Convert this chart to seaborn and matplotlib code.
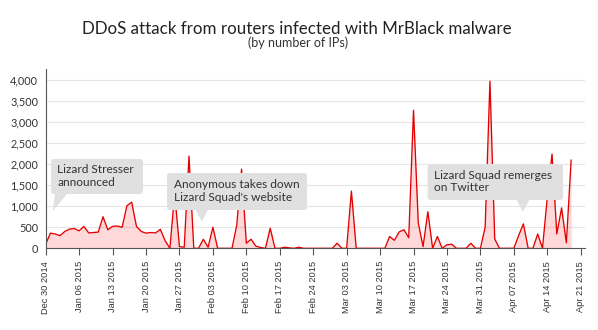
import numpy as np
import pandas as pd
import matplotlib
matplotlib.use("Agg")
import matplotlib.pyplot as plt
import matplotlib.dates as mdates
from matplotlib.patches import FancyBboxPatch, Polygon
from matplotlib.transforms import IdentityTransform
from matplotlib.ticker import FuncFormatter
import seaborn as sns

# ---------------- data ----------------
start_date = "2014-12-30"
ips = [100, 360, 340, 300, 400, 455, 470, 415, 520, 365,
       375, 385, 750, 440, 520, 530, 500, 1010, 1095, 520,
       400, 360, 375, 365, 450, 180, 0, 1300, 40, 25,
       2190, 0, 0, 215, 25, 500, 0, 0, 0, 0,
       550, 1880, 120, 215, 50, 20, 0, 476, 0, 0,
       25, 10, 0, 25, 0, 0, 0, 0, 0, 0,
       0, 120, 0, 0, 1360, 0, 0, 0, 0, 0,
       0, 0, 280, 190, 390, 440, 250, 3280, 600, 40,
       870, 0, 280, 0, 85, 95, 0, 0, 0, 120,
       0, 0, 500, 3970, 220, 0, 0, 0, 0, 300,
       580, 0, 0, 340, 0, 1200, 2240, 340, 960, 130,
       2100]
tick_start = "2014-12-30"
tick_end = "2015-04-21"
y_ticks = [0, 500, 1000, 1500, 2000, 2500, 3000, 3500, 4000]
title = "DDoS attack from routers infected with MrBlack malware"
subtitle = "(by number of IPs)"
notes = ["Lizard Stresser\nannounced",
         "Anonymous takes down\nLizard Squad's website",
         "Lizard Squad remerges\non Twitter"]

dates = pd.date_range(start_date, periods=len(ips), freq="D")
tick_dates = pd.date_range(tick_start, tick_end, freq="7D")
df = pd.DataFrame({"date": dates, "ips": ips})

# ---------------- style ----------------
sns.set_theme(style="white")
plt.rcParams["font.family"] = ["Lato", "DejaVu Sans"]

W, H = 598, 330
fig = plt.figure(figsize=(W / 100, H / 100), dpi=100)
fig.patch.set_facecolor("white")

x0, x1, ybot, ytop = 45.7, 585.0, 248.3, 69.0
ax = fig.add_axes([x0 / W, 1 - ybot / H, (x1 - x0) / W, (ybot - ytop) / H])

sns.lineplot(data=df, x="date", y="ips", ax=ax, color="#e30000", linewidth=0.95)
ax.fill_between(df["date"], df["ips"], 0, color="#ff0000", alpha=0.15, linewidth=0)

ax.set_xlim(dates[0], dates[0] + pd.Timedelta(days=112.9))
ax.set_ylim(0, 4260)
ax.set_xticks(tick_dates)
ax.xaxis.set_major_formatter(mdates.DateFormatter("%b %d %Y"))
ax.set_yticks(y_ticks)
ax.yaxis.set_major_formatter(FuncFormatter(lambda v, p: f"{int(v):,}"))
ax.set_xlabel("")
ax.set_ylabel("")

ax.yaxis.grid(True, color="#e6e6e6", linewidth=0.8)
ax.xaxis.grid(False)
ax.set_axisbelow(True)
for s in ["top", "right"]:
    ax.spines[s].set_visible(False)
for s in ["left", "bottom"]:
    ax.spines[s].set_color("#555555")
    ax.spines[s].set_linewidth(0.8)

ax.tick_params(axis="x", bottom=True, length=5, width=0.8, color="#555555",
               pad=4, labelsize=6.7, labelcolor="#333333", labelrotation=90,
               labelfontfamily="Liberation Sans")
ax.tick_params(axis="y", left=False, length=0, pad=5.5, labelsize=7.8,
               labelcolor="#333333")

# ---------------- annotations ----------------
ident = IdentityTransform()


def px(x, y):
    return (x, H - y)


boxes = [
    dict(box=(51, 159, 143, 194), tri=[(55, 194), (67, 194), (52.7, 211)],
         tx=57.3, ty=176.0),
    dict(box=(167, 173, 307, 210), tri=[(196, 210), (208, 210), (201.7, 221.7)],
         tx=174.0, ty=191.0),
    dict(box=(427.7, 164, 563, 200), tri=[(516.7, 200), (529.3, 200), (522.7, 211.7)],
         tx=434.0, ty=181.7),
]
for note, b in zip(notes, boxes):
    bx0, by0, bx1, by1 = b["box"]
    patch = FancyBboxPatch((bx0, H - by1), bx1 - bx0, by1 - by0,
                           boxstyle="round,pad=0,rounding_size=3",
                           transform=ident, facecolor="#e0e0e0",
                           edgecolor="none", zorder=5)
    fig.patches.append(patch)
    tri = Polygon([px(*p) for p in b["tri"]], closed=True, transform=ident,
                  facecolor="#e0e0e0", edgecolor="none", zorder=5)
    fig.patches.append(tri)
    fig.text(b["tx"] / W, 1 - b["ty"] / H, note, ha="left", va="center",
             fontsize=8.6, color="#333333", linespacing=1.15, zorder=6)

fig.text(297 / W, 1 - 34.3 / H, title, ha="center", va="baseline",
         fontsize=12.2, color="#222222")
fig.text(298 / W, 1 - 46.7 / H, subtitle, ha="center", va="baseline",
         fontsize=9, color="#333333")

fig.savefig("out.png", dpi=100, facecolor="white")
